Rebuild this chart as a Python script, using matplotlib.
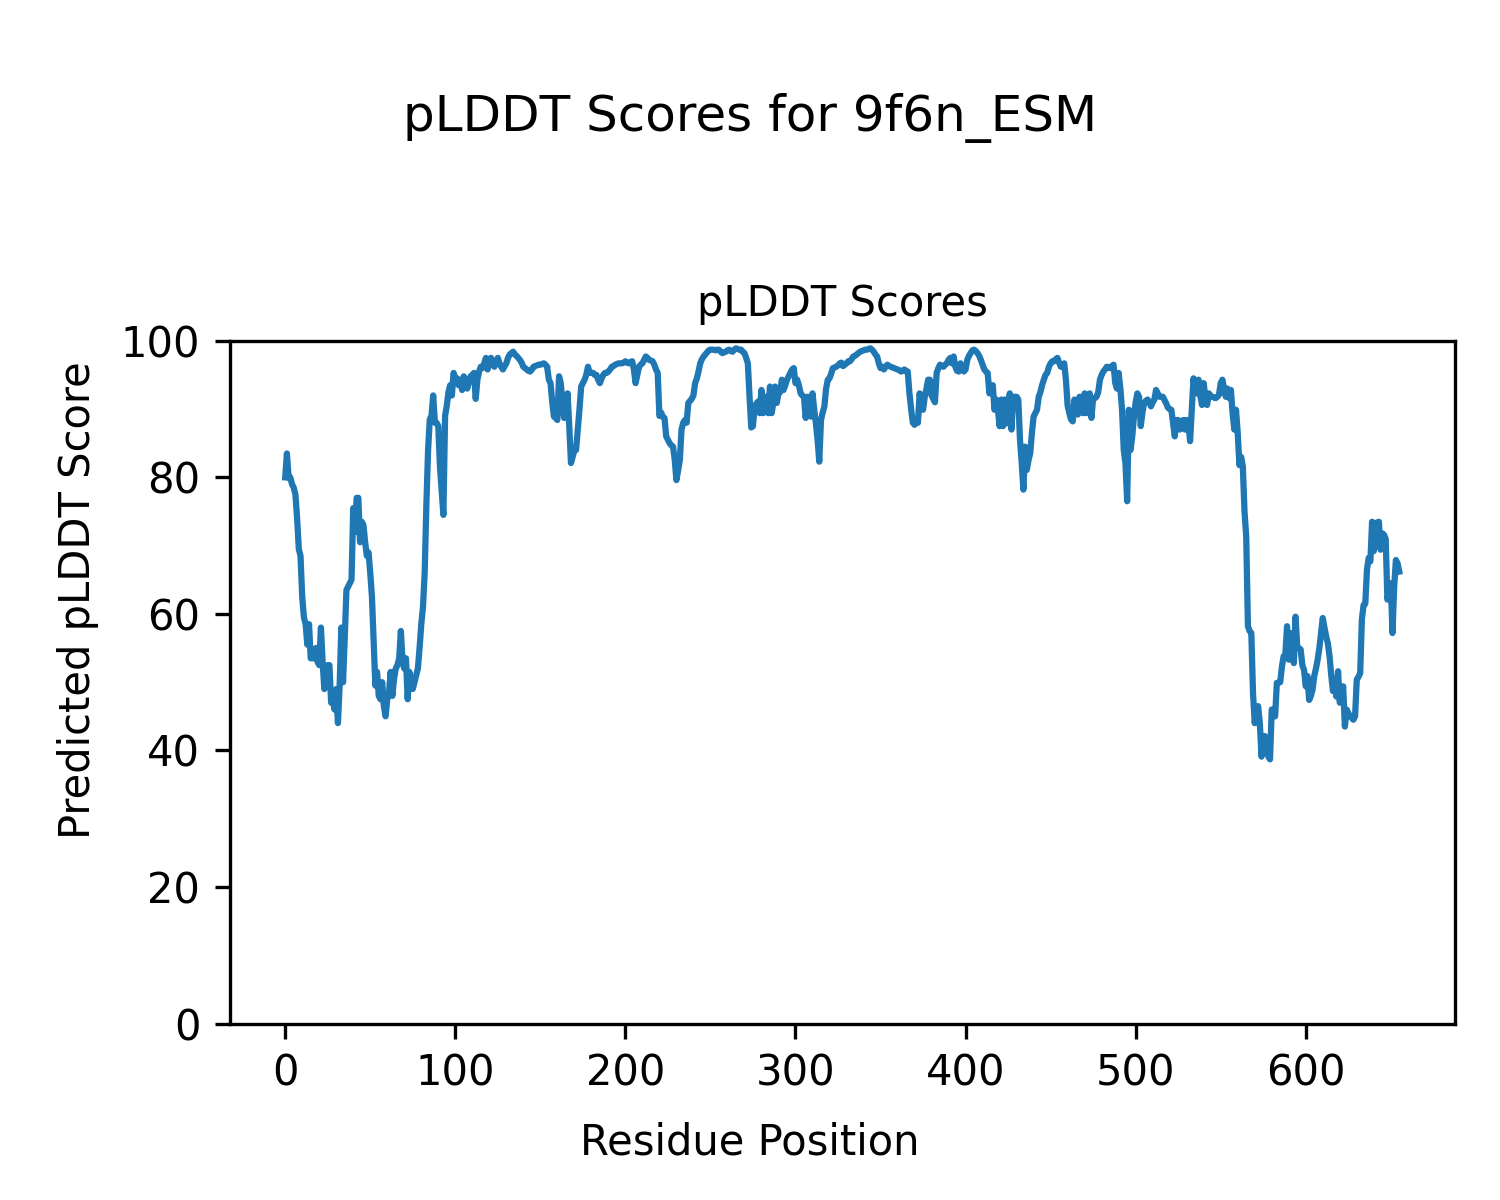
import numpy as np
import matplotlib
matplotlib.use("Agg")
import matplotlib.pyplot as plt

# pLDDT per residue (residues 0..655)
scores = [
    80, 83.5, 80, 80, 79, 78.5, 77.5, 74, 69.5, 68.5,
    62.5, 59.5, 58.5, 55.5, 58.5, 53.5, 53.5, 53.5, 55, 53,
    52.5, 58, 53, 49, 51, 52.5, 52.5, 47, 47.5, 46,
    49, 44, 49.5, 58, 50, 56.5, 63.5, 64, 64.5, 65,
    75.5, 72, 77, 77, 70.5, 73.5, 73, 70.5, 68.5, 69,
    66, 62.5, 56, 49.5, 51.5, 48, 47.5, 50, 46.5, 45,
    47.5, 48.5, 51.5, 48, 50.5, 52, 52.5, 53.5, 57.5, 53,
    52, 53.5, 47.5, 51.5, 50, 49, 50, 51, 52, 55,
    58.5, 61, 66, 76, 84, 88.5, 89, 92, 88, 88,
    87.5, 81.5, 78, 74.5, 89, 90.5, 92.5, 93.5, 92, 95.3,
    94.5, 94.5, 93.5, 94.3, 92.8, 94.8, 94, 93, 94, 94.8,
    95, 95.3, 91.5, 94.3, 95.5, 96.2, 96, 96.7, 97.5, 95.8,
    96.8, 97.5, 96.5, 96.2, 97, 97.5, 96.7, 96.2, 95.8, 96.3,
    96.7, 97.5, 98, 98.2, 98.4, 98, 97.8, 97.5, 97.2, 96.8,
    96.2, 96, 95.8, 95.6, 95.5, 95.8, 96.2, 96.3, 96.4, 96.5,
    96.5, 96.6, 96.7, 96.5, 96.2, 94.3, 93.8, 91, 88.9, 88.7,
    88.4, 94.8, 93.8, 91, 88.7, 88.9, 92.3, 87.5, 82.1, 83,
    84, 84, 87, 89.9, 93.3, 93.8, 94.3, 95, 96.2, 95.3,
    95.3, 95.3, 95, 95, 94.3, 93.8, 94.5, 95, 95.3, 95.3,
    95.5, 95.8, 96.2, 96.3, 96.5, 96.6, 96.7, 96.7, 96.7, 96.8,
    97, 96.8, 96.7, 96.9, 97, 95.8, 93.8, 95, 96.2, 96.5,
    96.7, 97.2, 97.7, 97.5, 97.2, 97.1, 97, 96.5, 95.8, 95.3,
    89, 89.5, 88.9, 88.7, 86, 85.5, 85, 84.7, 84.5, 82.6,
    79.6, 81, 82.5, 87, 88, 88.4, 88, 90.9, 91.2, 91.5,
    92, 93.8, 94.5, 95.5, 96.7, 97.3, 97.7, 98, 98.3, 98.6,
    98.7, 98.7, 98.7, 98.6, 98.7, 98.7, 98.4, 98.2, 98.3, 98.4,
    98.6, 98.7, 98.5, 98.4, 98.7, 98.9, 98.8, 98.7, 98.7, 98.4,
    98.2, 97.5, 96.7, 91.8, 87.3, 87.5, 90.4, 90.8, 91.1, 89.4,
    92.8, 89.4, 90.5, 91.8, 89.4, 93.3, 89.4, 91, 93.3, 90.9,
    92.3, 92.5, 94.3, 92.8, 93.5, 94.3, 94.8, 95.3, 95.8, 96,
    93.8, 94.3, 93.5, 92.3, 92, 91.8, 88.7, 91.8, 89.5, 88.9,
    92.3, 90, 87.9, 85.5, 82.3, 88.4, 89.5, 90.4, 93, 94.3,
    94.5, 95.2, 96, 96.1, 96.2, 96.4, 96.7, 96.8, 96.3, 96.5,
    96.7, 97, 97, 97.3, 97.7, 97.8, 98, 98.2, 98.4, 98.5,
    98.6, 98.7, 98.7, 98.8, 98.9, 98.7, 98.4, 98, 97.7, 96.7,
    96, 96.2, 95.8, 96.2, 96.5, 96.3, 96.2, 96.1, 96, 95.9,
    95.8, 95.7, 95.5, 95.6, 95.8, 95.6, 95.5, 92.3, 90, 88,
    87.7, 88, 88, 92.3, 90.5, 89.9, 91.8, 93, 94.3, 94.3,
    92, 91.5, 91, 95.3, 96, 96.5, 96.3, 96.2, 96.5, 96.7,
    97.2, 97.5, 96.7, 97.7, 96.2, 95.6, 95.5, 96.7, 96, 95.5,
    95.8, 97.2, 97.8, 98.2, 98.6, 98.7, 98.5, 98.2, 97.8, 97.2,
    96.5, 95.8, 95.5, 95.3, 92.3, 93, 93.5, 89.9, 91.4, 90,
    87.5, 91.4, 87.5, 91.4, 87.9, 90, 92.3, 87, 91.8, 91.8,
    91.8, 91.4, 85.5, 82.1, 78.2, 84.5, 81.1, 82.5, 83.5, 86.5,
    88.9, 89.4, 89.9, 91.8, 92.5, 93.5, 94.3, 95, 95.3, 96.2,
    96.7, 97, 97, 97.3, 97.5, 96.8, 96.2, 96.5, 96.7, 94.3,
    90.5, 89.4, 88.5, 88.2, 91.4, 89.5, 89.2, 91.8, 90.5, 89.4,
    92.3, 89.4, 91.5, 92.3, 88.7, 91.6, 91.6, 91.8, 92.5, 94.3,
    95, 95.5, 95.8, 96.2, 96.1, 96, 96.3, 96.5, 93.8, 93,
    95.3, 93, 89.9, 84, 82.1, 76.5, 89.9, 84, 86, 88.9,
    91, 92.3, 91.8, 87.5, 89.5, 90.9, 91.2, 91.4, 91, 90.4,
    91, 91.4, 92.8, 92.3, 91.8, 91.8, 91.8, 91.3, 90.8, 90.2,
    90, 89.9, 88, 86, 88.4, 88.4, 87, 88, 88.4, 87,
    88.4, 88, 85.3, 90, 94.5, 93, 92.3, 94.3, 92, 90.6,
    93.8, 91.5, 90.6, 92.3, 92, 91.8, 91.7, 91.6, 91.8, 92.1,
    93.8, 94.3, 93, 91.8, 93, 91.6, 92.8, 89.4, 87, 89.9,
    86.5, 81.8, 83, 81.6, 75, 71.4, 58.2, 57.5, 57.2, 48.4,
    44, 46, 46.5, 44, 39.1, 42.1, 42.1, 40.5, 39.1, 38.7,
    46, 45.5, 45, 49.9, 49.9, 50, 52.3, 53.8, 54, 58.2,
    53.3, 57.2, 55, 52.8, 59.6, 55.2, 55, 54.8, 52.5, 51.8,
    49.4, 50.9, 47.4, 48, 48.9, 50.9, 52, 53.3, 55, 57.2,
    59.4, 58, 56.7, 55.7, 53.8, 51, 48.7, 50.4, 47.9, 51.6,
    47, 48, 49.4, 43.5, 46, 45.5, 45, 44.8, 44.5, 45,
    50.4, 50.8, 51.3, 59.2, 61.3, 61.5, 66.5, 68.2, 67.7, 73.5,
    69.2, 73.3, 73.4, 73.5, 69.4, 71.8, 71.6, 71, 62.1, 63.5,
    64.5, 57.2, 64, 67.9, 67.4, 66.2,
]
residues = np.arange(len(scores))

fig = plt.figure(figsize=(5, 4), dpi=300)
ax = fig.add_axes([0.153, 0.147, 0.817, 0.569])
ax.plot(residues, scores, color="tab:blue", linewidth=1.5)
ax.set_ylim(0, 100)
ax.set_title("pLDDT Scores", fontsize=10)

# figure-level labels, centred on the whole figure like the original
fig.suptitle("pLDDT Scores for 9f6n_ESM", fontsize=12, y=0.902, va="center")
fig.supxlabel("Residue Position", fontsize=10, y=0.038, va="baseline")
fig.supylabel("Predicted pLDDT Score", fontsize=10, x=0.052, ha="center")

fig.savefig("out.png", dpi=300)
